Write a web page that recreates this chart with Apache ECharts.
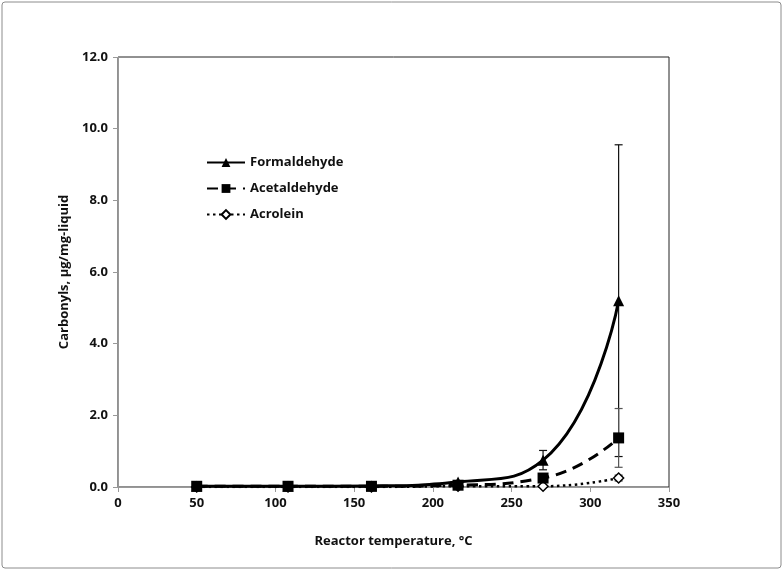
<!DOCTYPE html>
<html>
<head>
<meta charset="utf-8">
<script src="https://cdn.jsdelivr.net/npm/echarts@6/dist/echarts.min.js"></script>
<style>
  html, body { margin: 0; padding: 0; background: #fff; }
  #chart { width: 784px; height: 571px; }
</style>
</head>
<body>
<div id="chart"></div>
<script>
// reactor temperatures (°C)
var temps = [50, 108, 161, 216, 270, 318];

// carbonyl yields, µg/mg-liquid
var formaldehyde = [0.02, 0.02, 0.03, 0.14, 0.75, 5.2];
var acetaldehyde = [0.02, 0.02, 0.02, 0.05, 0.25, 1.37];
var acrolein = [0.0, 0.0, 0.0, 0.02, 0.02, 0.25];

// +/- error bars
var formaldehydeErr = [0, 0, 0, 0.03, 0.27, 4.35];
var acetaldehydeErr = [0, 0, 0, 0.02, 0.1, 0.82];
var acroleinErr = [0, 0, 0, 0, 0.01, 0.08];

var yTicks = [0, 2, 4, 6, 8, 10, 12];
var fontName = 'Open Sans';

function pairs(vals) {
  var out = [];
  for (var i = 0; i < temps.length; i++) out.push([temps[i], vals[i]]);
  return out;
}

function errData(vals, errs) {
  var out = [];
  for (var i = 0; i < temps.length; i++) {
    if (errs[i] > 0) out.push([temps[i], vals[i] - errs[i], vals[i] + errs[i]]);
  }
  return out;
}

// whisker drawn through the axis scales
function errorSeries(vals, errs, color) {
  return {
    type: 'custom',
    silent: true,
    z: 1,
    data: errData(vals, errs),
    renderItem: function (params, api) {
      var x = api.value(0);
      var lo = api.coord([x, api.value(1)]);
      var hi = api.coord([x, api.value(2)]);
      var w = 4;
      var st = { stroke: color, lineWidth: 1.2 };
      return {
        type: 'group',
        children: [
          { type: 'line', shape: { x1: lo[0], y1: lo[1], x2: hi[0], y2: hi[1] }, style: st },
          { type: 'line', shape: { x1: hi[0] - w, y1: hi[1], x2: hi[0] + w, y2: hi[1] }, style: st },
          { type: 'line', shape: { x1: lo[0] - w, y1: lo[1], x2: lo[0] + w, y2: lo[1] }, style: st }
        ]
      };
    }
  };
}

var chart = echarts.init(document.getElementById('chart'));

var option = {
  backgroundColor: '#fff',
  animation: false,
  textStyle: { fontFamily: fontName },
  graphic: [{
    type: 'rect',
    shape: { x: 2, y: 2, width: 779, height: 566, r: 3 },
    style: { fill: 'none', stroke: '#8c8c8c', lineWidth: 1 },
    silent: true
  }],
  grid: {
    left: 118,
    right: 115,
    top: 57,
    bottom: 84,
    show: true,
    borderColor: '#222',
    borderWidth: 1
  },
  legend: {
    left: 201,
    top: 151,
    orient: 'vertical',
    itemWidth: 38,
    itemHeight: 11,
    itemGap: 13,
    textStyle: { fontFamily: fontName, fontWeight: 'bold', fontSize: 13, color: '#111' },
    data: ['Formaldehyde', 'Acetaldehyde', 'Acrolein']
  },
  xAxis: {
    type: 'value',
    min: 0,
    max: 350,
    interval: 50,
    name: 'Reactor temperature, °C',
    nameLocation: 'middle',
    nameGap: 48,
    nameTextStyle: { fontFamily: fontName, fontWeight: 'bold', fontSize: 13, color: '#111' },
    axisLine: { lineStyle: { color: '#999' } },
    axisTick: { show: true, length: 5, lineStyle: { color: '#999' } },
    axisLabel: { fontFamily: fontName, fontWeight: 'bold', fontSize: 13, color: '#111', margin: 10 },
    splitLine: { show: false }
  },
  yAxis: {
    type: 'value',
    min: yTicks[0],
    max: yTicks[yTicks.length - 1],
    interval: 2,
    name: 'Carbonyls, μg/mg-liquid',
    nameLocation: 'middle',
    nameGap: 44,
    nameTextStyle: { fontFamily: fontName, fontWeight: 'bold', fontSize: 13, color: '#111' },
    axisLine: { show: true, lineStyle: { color: '#999' } },
    axisTick: { show: true, length: 5, lineStyle: { color: '#999' } },
    axisLabel: {
      fontFamily: fontName, fontWeight: 'bold', fontSize: 13, color: '#111', margin: 10,
      formatter: function (v) { return v.toFixed(1); }
    },
    splitLine: { show: false }
  },
  series: [
    errorSeries(formaldehyde, formaldehydeErr, '#111'),
    errorSeries(acetaldehyde, acetaldehydeErr, '#555'),
    errorSeries(acrolein, acroleinErr, '#333'),
    {
      name: 'Formaldehyde',
      type: 'line',
      smooth: 0.5,
      z: 4,
      data: pairs(formaldehyde),
      symbol: 'triangle',
      symbolSize: 11,
      lineStyle: { color: '#000', width: 3 },
      itemStyle: { color: '#000' }
    },
    {
      name: 'Acetaldehyde',
      type: 'line',
      smooth: 0.5,
      z: 3,
      data: pairs(acetaldehyde),
      symbol: 'rect',
      symbolSize: 11,
      lineStyle: { color: '#000', width: 3, type: [11, 7] },
      itemStyle: { color: '#000' }
    },
    {
      name: 'Acrolein',
      type: 'line',
      smooth: 0.5,
      z: 2,
      data: pairs(acrolein),
      symbol: 'diamond',
      symbolSize: 10,
      showAllSymbol: true,
      lineStyle: { color: '#000', width: 2.5, type: [2.5, 3.5] },
      itemStyle: { color: '#fff', borderColor: '#000', borderWidth: 1.5 }
    }
  ]
};

chart.setOption(option);
</script>
</body>
</html>
